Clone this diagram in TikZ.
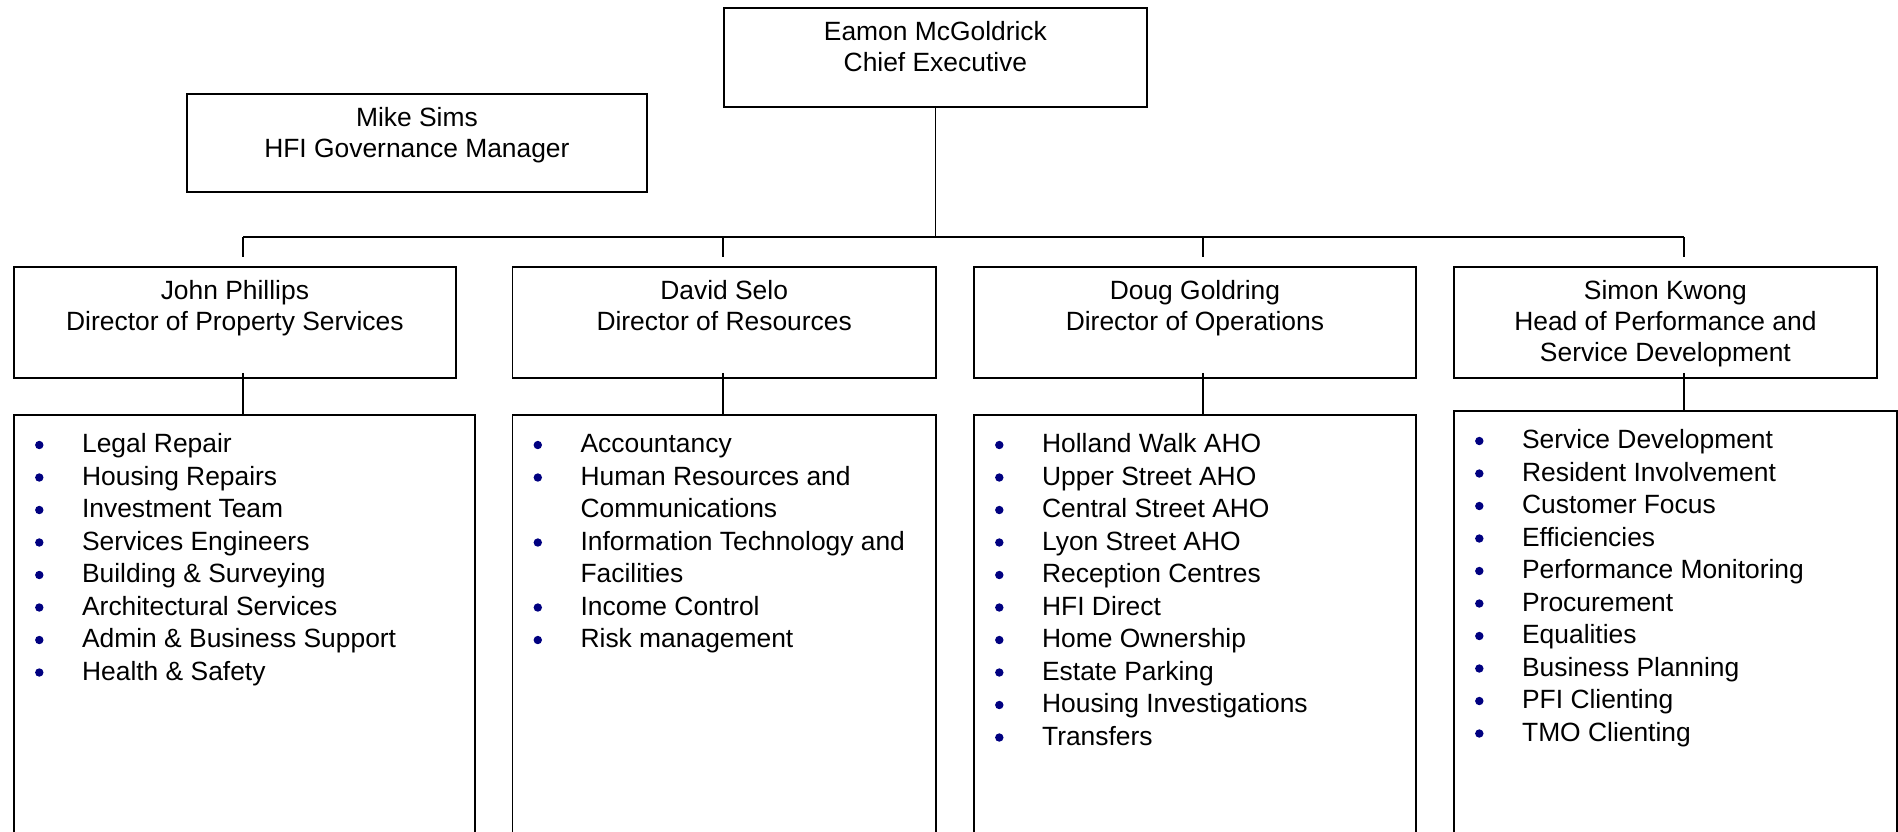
\documentclass[tikz,border=0pt]{standalone}
\usepackage{fontspec}
\setmainfont{Liberation Sans}
\usetikzlibrary{positioning, calc}
\definecolor{bulletblue}{HTML}{000080}

\begin{document}
\begin{tikzpicture}[x=0.5pt, y=-0.5pt,
    box/.style={draw, line width=0.9pt, inner sep=0pt, anchor=north west},
    head/.style={anchor=north, align=center, inner sep=0pt, execute at begin node={\strut},
        font=\fontsize{13.2}{15.5}\selectfont},
    item/.style={anchor=north west, inner sep=0pt, execute at begin node={\strut},
        font=\fontsize{13.2}{16.25}\selectfont},
    link/.style={line width=0.65pt}]
    \useasboundingbox (0,0) rectangle (1898,831);
    \clip (0,0) rectangle (1898,831);

    % top boxes
    \node[box, minimum width=211.5pt, minimum height=49.5pt] (ceo) at (723,7) {};
    \node[box, minimum width=230pt, minimum height=49pt] (gov) at (186,93) {};
    \node[head] (ceoT) at ([yshift=-6.9pt]ceo.north) {Eamon McGoldrick\\Chief Executive};
    \node[head] (govT) at ([yshift=-6.9pt]gov.north) {Mike Sims\\HFI Governance Manager};

    % directors
    \node[box, minimum width=221pt, minimum height=55.5pt] (prop) at (13,266) {};
    \node[box, minimum width=211.75pt, minimum height=55.5pt] (res) at (511.5,266) {};
    \node[box, minimum width=221pt, minimum height=55.5pt] (ops) at (973,266) {};
    \node[box, minimum width=211.5pt, minimum height=55.5pt] (perf) at (1453,266) {};
    \node[head] (propT) at ([yshift=-6.9pt]prop.north) {John Phillips\\Director of Property Services};
    \node[head] (resT) at ([yshift=-6.9pt]res.north) {David Selo\\Director of Resources};
    \node[head] (opsT) at ([yshift=-6.9pt]ops.north) {Doug Goldring\\Director of Operations};
    \node[head] (perfT) at ([yshift=-6.9pt]perf.north) {Simon Kwong\\Head of Performance and\\Service Development};

    % teams
    \node[box, minimum width=230.5pt, minimum height=213pt] (prop-list) at (13,414) {};
    \node[box, minimum width=211.75pt, minimum height=213pt] (res-list) at (511.5,414) {};
    \node[box, minimum width=221pt, minimum height=213pt] (ops-list) at (973,414) {};
    \node[box, minimum width=221.5pt, minimum height=215pt] (perf-list) at (1453,410) {};

    % connectors
    \coordinate (bus) at (ceo.south |- 0,237);
    \foreach \x [count=\i] in {243,723,1203,1684}
        \coordinate (d\i) at (\x,237);
    \draw[link] (ceo.south) -- (bus);
    \draw[link] (d1) -- (d4);
    \foreach \n/\i in {prop/1,res/2,ops/3,perf/4} {
        \draw[link] (d\i) -- ([yshift=4.5pt]d\i |- \n.north);
        \draw[link] ([yshift=3pt]d\i |- \n.south) -- (d\i |- \n-list.north);
    }

    % bullet lists
    \foreach \k/\t in {1/Legal Repair, 2/Housing Repairs, 3/Investment Team, 4/Services Engineers,
        5/Building \& Surveying, 6/Architectural Services, 7/Admin \& Business Support, 8/Health \& Safety} {
        \node[item] (prop-\k) at ([xshift=34.35pt, yshift={-7.775pt-(\k-1)*16.25pt}]prop-list.north west) {\t};
        \fill[bulletblue] ([xshift=13.15pt, yshift={-15.5pt-(\k-1)*16.25pt}]prop-list.north west) circle (2.1pt);
    }
    \foreach \k/\t in {1/Accountancy, 2/Human Resources and, 3/Communications,
        4/Information Technology and, 5/Facilities, 6/Income Control, 7/Risk management}
        \node[item] (res-\k) at ([xshift=34.35pt, yshift={-7.775pt-(\k-1)*16.25pt}]res-list.north west) {\t};
    \foreach \k in {1,2,4,6,7}
        \fill[bulletblue] ([xshift=13.15pt, yshift={-15.5pt-(\k-1)*16.25pt}]res-list.north west) circle (2.1pt);
    \foreach \k/\t in {1/Holland Walk AHO, 2/Upper Street AHO, 3/Central Street AHO, 4/Lyon Street AHO,
        5/Reception Centres, 6/HFI Direct, 7/Home Ownership, 8/Estate Parking,
        9/Housing Investigations, 10/Transfers} {
        \node[item] (ops-\k) at ([xshift=34.35pt, yshift={-7.775pt-(\k-1)*16.25pt}]ops-list.north west) {\t};
        \fill[bulletblue] ([xshift=13.15pt, yshift={-15.5pt-(\k-1)*16.25pt}]ops-list.north west) circle (2.1pt);
    }
    \foreach \k/\t in {1/Service Development, 2/Resident Involvement, 3/Customer Focus, 4/Efficiencies,
        5/Performance Monitoring, 6/Procurement, 7/Equalities, 8/Business Planning,
        9/PFI Clienting, 10/TMO Clienting} {
        \node[item] (perf-\k) at ([xshift=34.35pt, yshift={-7.775pt-(\k-1)*16.25pt}]perf-list.north west) {\t};
        \fill[bulletblue] ([xshift=13.15pt, yshift={-15.5pt-(\k-1)*16.25pt}]perf-list.north west) circle (2.1pt);
    }
\end{tikzpicture}
\end{document}
